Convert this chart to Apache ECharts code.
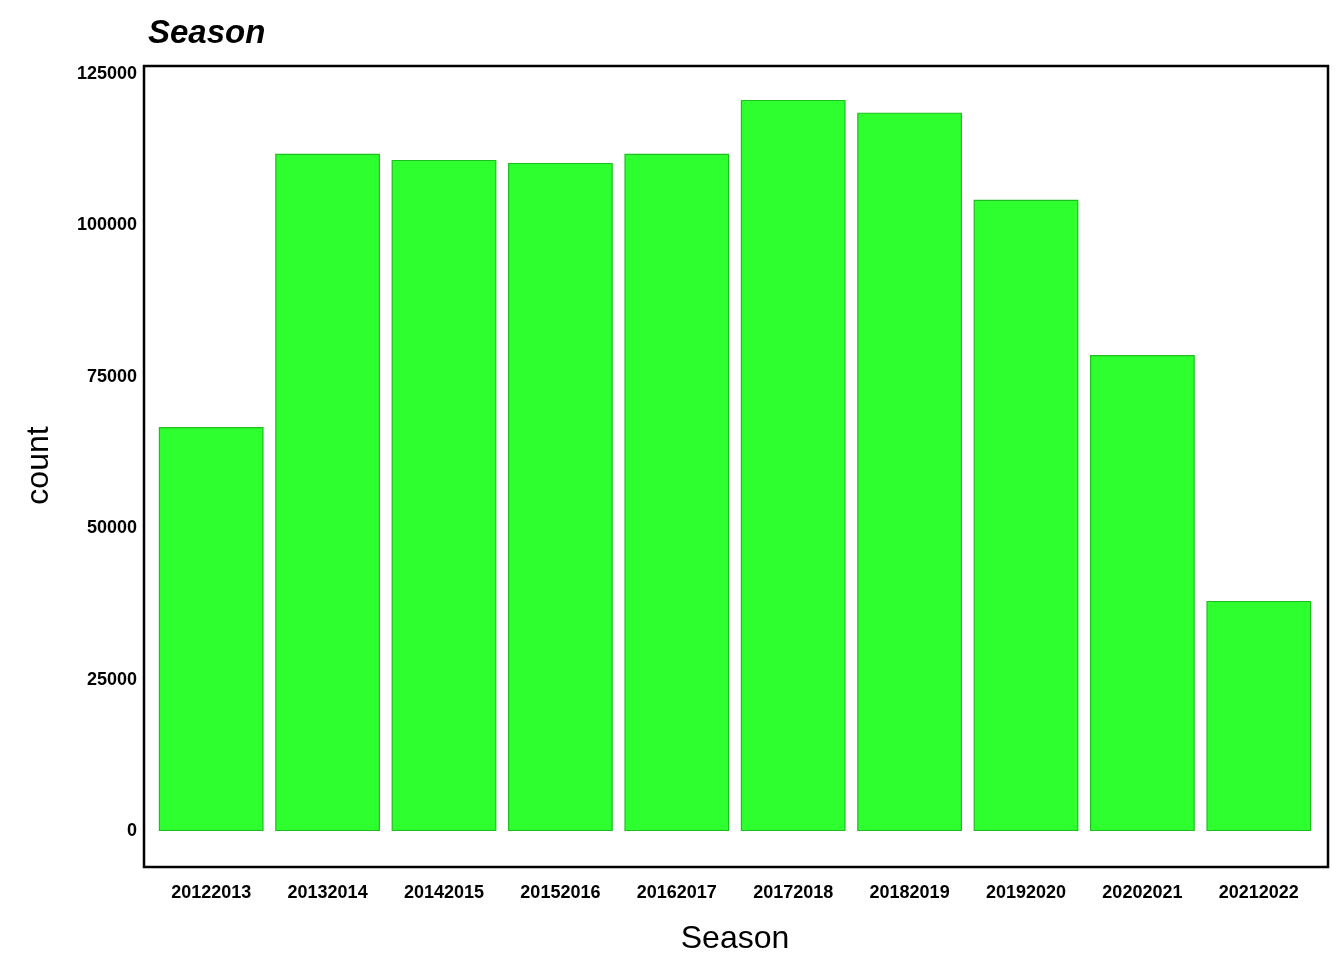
<!DOCTYPE html>
<html><head><meta charset="utf-8">
<script src="https://cdn.jsdelivr.net/npm/echarts@6/dist/echarts.min.js"></script>
<style>html,body{margin:0;background:#fff}#c{width:1344px;height:960px}</style>
</head><body><div id="c"></div>
<script>
const categories = ["20122013","20132014","20142015","20152016","20162017","20172018","20182019","20192020","20202021","20212022"];
const counts = [66700,111800,110800,110300,111800,120700,118600,104200,78600,38000];
const yTicks = [0,25000,50000,75000,100000,125000];
const chart = echarts.init(document.getElementById('c'));
chart.setOption({
  animation:false,
  title:{text:'Season',left:143,top:12,textStyle:{fontFamily:'Liberation Sans',fontSize:33,fontWeight:'bold',fontStyle:'italic',color:'#000'}},
  graphic:[{type:'rect',shape:{x:144,y:66,width:1184,height:801},style:{fill:'none',stroke:'#000',lineWidth:2.5},z:10}],
  grid:{left:153,right:27,top:66,bottom:93,containLabel:false},
  xAxis:{type:'category',data:categories,
    name:'Season',nameLocation:'middle',nameGap:58,
    nameTextStyle:{fontFamily:'Liberation Sans',fontSize:32,color:'#000'},
    axisLine:{show:false},axisTick:{show:false},
    axisLabel:{margin:19,fontFamily:'Liberation Sans',fontSize:18,fontWeight:'bold',color:'#000'}},
  yAxis:{type:'value',min:-5600,max:126300,
    name:'count',nameLocation:'middle',nameGap:98,nameRotate:90,
    nameTextStyle:{fontFamily:'Liberation Sans',fontSize:32,color:'#000'},
    splitLine:{show:false},axisLine:{show:false},
    axisTick:{show:false,customValues:yTicks},
    axisLabel:{customValues:yTicks,formatter:v=>String(v),margin:16,fontFamily:'Liberation Sans',fontSize:18,fontWeight:'bold',color:'#000'}},
  series:[{type:'bar',data:counts,barCategoryGap:'10%',
    itemStyle:{color:'#2eff2e',borderColor:'#1fbf1f',borderWidth:1.2}}]
});
</script></body></html>
